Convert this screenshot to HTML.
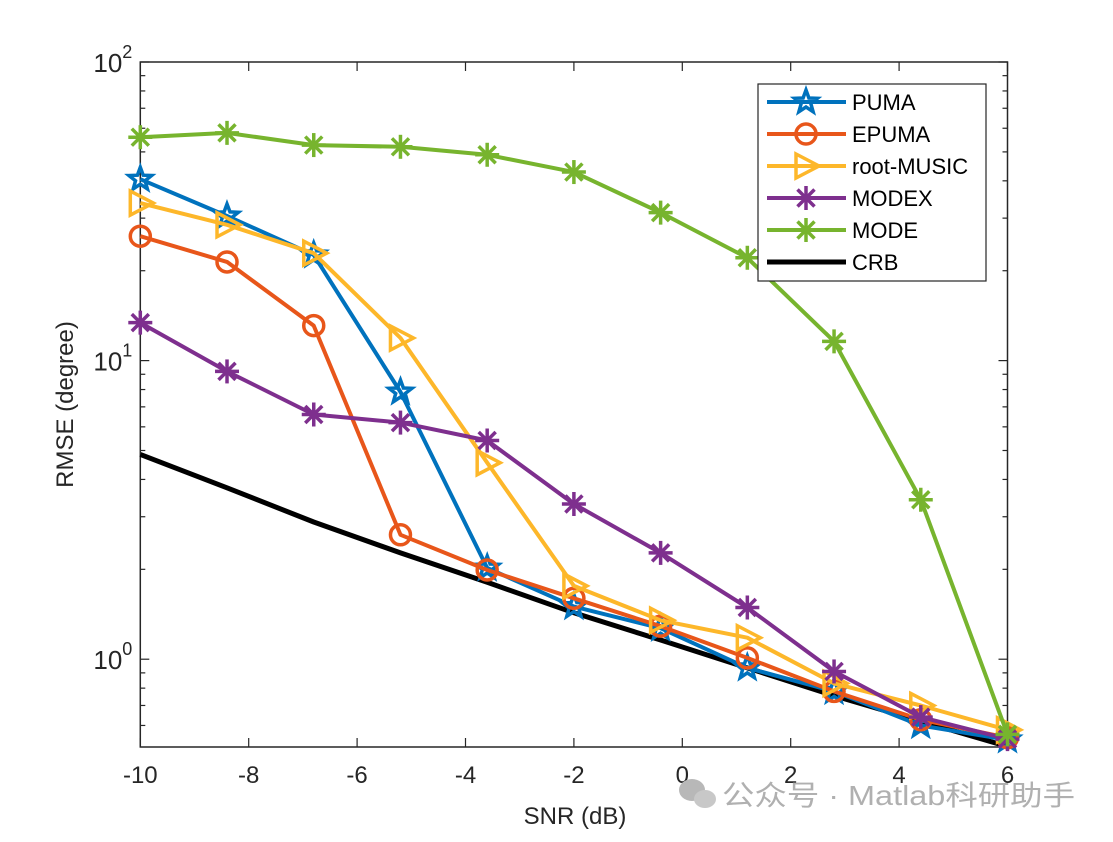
<!DOCTYPE html>
<html><head><meta charset="utf-8"><style>
body{margin:0;background:#fff;}
svg text{font-family:"Liberation Sans","Noto Sans CJK SC",sans-serif;}
</style></head><body>
<svg id="chart" width="1113" height="837" viewBox="0 0 1113 837" xmlns="http://www.w3.org/2000/svg">
<rect width="1113" height="837" fill="#fff"/>
<g id="plot"></g>
</svg>
<script>
const snr = [-10,-8.4,-6.8,-5.2,-3.6,-2,-0.4,1.2,2.8,4.4,6];
const puma = [40.5,30.5,22.6,7.85,2.02,1.50,1.27,0.935,0.78,0.60,0.537];
const epuma = [26.1,21.4,13.1,2.61,1.99,1.60,1.29,1.01,0.78,0.627,0.546];
const rootMusic = [33.7,28.5,22.9,11.9,4.55,1.76,1.35,1.18,0.83,0.70,0.58];
const modex = [13.4,9.2,6.6,6.2,5.4,3.31,2.27,1.49,0.91,0.64,0.54];
const mode = [56,57.9,52.7,52,48.9,42.8,31.3,22.1,11.6,3.42,0.56];
const crb = [4.85,3.75,2.88,2.27,1.81,1.43,1.16,0.935,0.755,0.62,0.51];
const xTicks = [-10,-8,-6,-4,-2,0,2,4,6];
const yDecades = [0,1,2];
const seriesNames = ["PUMA","EPUMA","root-MUSIC","MODEX","MODE","CRB"];

const L=140.3,R=1007.5,T=62,B=747;
const xMin=-10,xMax=6,yLogMax=2,yLogMin=-0.294;
const X=v=>L+(v-xMin)/(xMax-xMin)*(R-L);
const Y=v=>T+(yLogMax-Math.log10(v))/(yLogMax-yLogMin)*(B-T);
const NS="http://www.w3.org/2000/svg";
const g=document.getElementById('plot');
function mk(tag,attrs,parent){const e=document.createElementNS(NS,tag);for(const k in attrs)e.setAttribute(k,attrs[k]);(parent||g).appendChild(e);return e;}

const ax=mk('rect',{x:L,y:T,width:R-L,height:B-T,fill:'none',stroke:'#262626','stroke-width':1.5});


xTicks.forEach(t=>{
  const x=X(t);
  const a=mk('line',{x1:x,x2:x,y1:B,y2:B-9,stroke:'#262626','stroke-width':1.2});
  
  
  const b=mk('line',{x1:x,x2:x,y1:T,y2:T+9,stroke:'#262626','stroke-width':1.2});
  
  
  const tx=mk('text',{x:x,y:B+36,'text-anchor':'middle','font-size':24,fill:'#262626'});
  tx.textContent=t;
  
  
});
for(let d=-1;d<=2;d++){
  for(let m=1;m<10;m++){
    const v=m*Math.pow(10,d);
    const lv=Math.log10(v);
    if(lv<yLogMin-1e-9||lv>yLogMax+1e-9)continue;
    const y=Y(v);const len=m===1?9:5;
    const a=mk('line',{x1:L,x2:L+len,y1:y,y2:y,stroke:'#262626','stroke-width':1.2});
    
    
    const b=mk('line',{x1:R,x2:R-len,y1:y,y2:y,stroke:'#262626','stroke-width':1.2});
    
    
  }
}
yDecades.forEach(d=>{
  const y=Y(Math.pow(10,d));
  const t=mk('text',{x:L-8,y:y+10,'text-anchor':'end','font-size':26,fill:'#262626'});
  t.innerHTML='10<tspan dy="-14" font-size="18">'+d+'</tspan>';
  
  
});
const xl=mk('text',{x:575,y:824,'text-anchor':'middle','font-size':24,fill:'#262626'});
xl.textContent='SNR (dB)';


const yl=mk('text',{x:0,y:0,'text-anchor':'middle','font-size':24,fill:'#262626',transform:'translate(73,'+((T+B)/2)+') rotate(-90)'});
yl.textContent='RMSE (degree)';



function marker(type,x,y,color,parent){
  const p=parent||g;
  if(type==='star'){
    let pts=[];for(let i=0;i<10;i++){const r=i%2?5:12;const a=-Math.PI/2+i*Math.PI/5;pts.push((x+r*Math.cos(a)).toFixed(1)+','+(y+r*Math.sin(a)).toFixed(1));}
    return mk('polygon',{points:pts.join(' '),fill:'none',stroke:color,'stroke-width':3.5},p);
  }
  if(type==='circle')return mk('circle',{cx:x,cy:y,r:10,fill:'none',stroke:color,'stroke-width':3.5},p);
  if(type==='tri')return mk('polygon',{points:`${x-10},${y-12} ${x+13},${y} ${x-10},${y+12}`,fill:'none',stroke:color,'stroke-width':3.5},p);
  if(type==='ast'){
    const r=12,gg=mk('g',{stroke:color,'stroke-width':3.5},p);
    mk('line',{x1:x,x2:x,y1:y-r,y2:y+r},gg);
    mk('line',{x1:x-r,x2:x+r,y1:y,y2:y},gg);
    mk('line',{x1:x-8.5,x2:x+8.5,y1:y-8.5,y2:y+8.5},gg);
    mk('line',{x1:x-8.5,x2:x+8.5,y1:y+8.5,y2:y-8.5},gg);
    return gg;
  }
  return null;
}
const series=[
  {name:'crb',vals:crb,color:'#000000',m:null},
  {name:'puma',vals:puma,color:'#0072BD',m:'star'},
  {name:'epuma',vals:epuma,color:'#E8561A',m:'circle'},
  {name:'root-music',vals:rootMusic,color:'#FDB72A',m:'tri'},
  {name:'modex',vals:modex,color:'#7E2F8E',m:'ast'},
  {name:'mode',vals:mode,color:'#77B42E',m:'ast'}
];
series.forEach(s=>{
  const grp=mk('g',{});
  
  
  const pts=snr.map((x,i)=>X(x).toFixed(1)+','+Y(s.vals[i]).toFixed(1)).join(' ');
  const ln=mk('polyline',{points:pts,fill:'none',stroke:s.color,'stroke-width':s.m?4:5,'stroke-linejoin':'round'},grp);
  
  
  if(s.m)snr.forEach((x,i)=>{
    const mm=marker(s.m,X(x),Y(s.vals[i]),s.color,grp);
    
    
  });
});
const lg=mk('g',{});


mk('rect',{x:758,y:84,width:228,height:197,fill:'#fff',stroke:'#262626','stroke-width':1.2},lg);
const legOrder=[series[1],series[2],series[3],series[4],series[5],series[0]];
legOrder.forEach((s,i)=>{
  const y=102+i*32;
  const e=mk('g',{},lg);
  
  
  mk('line',{x1:767,x2:846,y1:y,y2:y,stroke:s.color,'stroke-width':s.m?4:5},e);
  if(s.m)marker(s.m,806,y,s.color,e);
  const t=mk('text',{x:852,y:y+8,'font-size':22,fill:'#000'},e);
  t.textContent=seriesNames[i];
});
const wm=mk('g',{});


mk('ellipse',{cx:692,cy:790,rx:13,ry:11,fill:'#b8b8b8'},wm);
mk('ellipse',{cx:705,cy:799,rx:11,ry:9,fill:'#c8c8c8'},wm);
const wt=mk('text',{x:722,y:805,'font-size':28,fill:'#b0b0b0',textLength:353,lengthAdjust:'spacingAndGlyphs'},wm);
wt.textContent='公众号 · Matlab科研助手';
</script>
</body></html>
